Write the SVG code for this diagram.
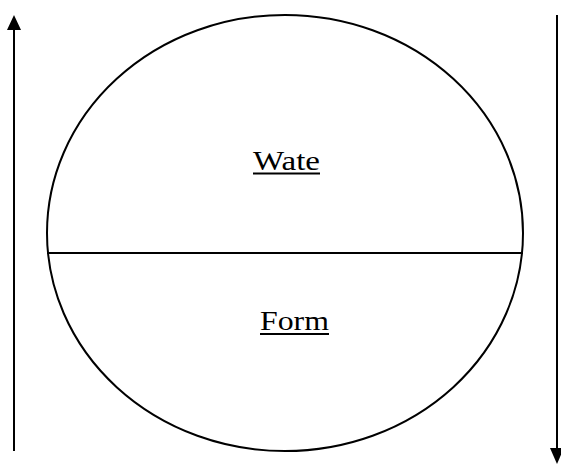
<svg xmlns="http://www.w3.org/2000/svg" width="561" height="465" viewBox="0 0 561 465">
<style>
.s{fill:none;stroke:#000;stroke-width:2}
.h{fill:#000;stroke:none}
.t{font-family:"Liberation Serif","Times New Roman",serif;font-size:28px;fill:#000}
</style>
<rect width="561" height="465" fill="#fff"/>
<g id="connectors">
<line class="s" x1="14" y1="451" x2="14" y2="29"/>
<polygon class="h" points="14,15 7,30 21,30"/>
<line class="s" x1="557" y1="15" x2="557" y2="449"/>
<polygon class="h" points="550,448 564,448 557,464"/>
</g>
<g id="circle">
<ellipse class="s" cx="285" cy="233" rx="238" ry="218"/>
<line class="s" x1="47" y1="253" x2="523" y2="253"/>
</g>
<g id="wate">
<text class="t" x="253" y="170" textLength="67" lengthAdjust="spacingAndGlyphs">Wate</text>
<line x1="253" y1="173.5" x2="320" y2="173.5" stroke="#000" stroke-width="1.8"/>
</g>
<g id="form">
<text class="t" x="260" y="330" textLength="69" lengthAdjust="spacingAndGlyphs">Form</text>
<line x1="260" y1="334" x2="329" y2="334" stroke="#000" stroke-width="1.8"/>
</g>
</svg>
